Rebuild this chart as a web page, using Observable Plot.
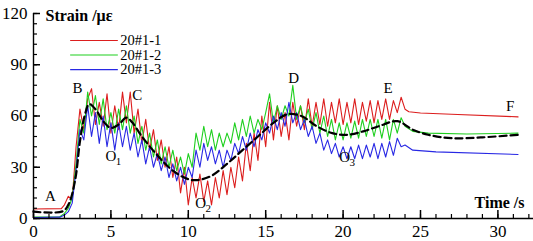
<!DOCTYPE html>
<html><head><meta charset="utf-8">
<script src="https://cdn.jsdelivr.net/npm/d3@7"></script>
<script src="https://cdn.jsdelivr.net/npm/@observablehq/plot@0.6"></script>
<style>body{margin:0;background:#fff} svg text{font-family:"Liberation Serif","Times New Roman",serif}</style>
</head><body><div id="chart"></div>
<script>
// ---------- data ----------
const seriesNames = ["20#1-1", "20#1-2", "20#1-3"];
const seriesColors = ["#dc1e1e", "#1ecf1e", "#2828e4"];

// oscillating part sampled every 0.25 s starting at t = 2.0 s
const oscStart = 2.0, oscStep = 0.25;
const redHead = [[0, 5.6], [1.8, 5.8]];
const redOsc = [8,13,11,42,64,52,70,76,55,68,54,73,50,66,52,74,56,74,50,64,44,58,40,52,34,46,30,42,24,36,15,30,8,24,12,26,10,22,8,24,12,28,14,30,18,36,22,44,28,50,34,60,42,68,46,66,48,62,46,68,54,66,52,70,54,68,55,70,54,68,56,70,55,68,56,70,55,68,57,69,56,69,58,70,58,69,62,71,64];
const redTail = [[24.25, 62.5], [25, 61.8], [27, 61], [31.3, 59.5]];

const greenHead = [[0, 0.8], [1.7, 1]];
const greenOsc = [3,6,12,32,58,50,74,60,72,55,70,52,62,50,64,52,66,50,60,44,54,40,50,36,46,32,42,30,40,28,36,26,38,30,50,40,54,42,52,40,50,42,50,44,56,46,58,48,60,50,58,52,62,73,56,66,58,66,60,78,58,66,56,64,52,62,50,60,48,58,46,56,46,56,47,57,47,58,48,58,48,58,47,58,46,58,50,59,54];
const greenTail = [[24.5, 51], [25.5, 50], [28, 49.5], [31.3, 50]];

const blueHead = [[0, 0.6], [1.7, 0.8]];
const blueOsc = [2,4,9,28,52,46,66,48,62,44,60,42,56,40,56,42,54,40,50,36,46,32,42,30,38,28,36,24,32,22,30,20,30,24,40,30,44,34,42,32,40,30,40,34,44,38,48,40,50,42,52,46,56,50,60,52,62,54,68,56,62,52,58,48,54,44,50,40,46,38,44,36,42,35,42,35,43,35,43,36,44,35,44,36,45,37,47,42,43];
const blueTail = [[24.5, 40], [26, 39], [31.3, 37.5]];

// dashed average curve
const meanCurve = [[0,4],[1.9,4.3],[2.3,9],[2.7,23],[3.0,45],[3.3,60],[3.6,67],[4.0,64],[4.5,57],[5.0,53],[5.5,55],[6.0,59],[6.4,56],[7.0,48],[8.0,37],[9.0,28],[10.0,23],[10.6,22.5],[11.5,25],[12.5,32],[13.5,40],[14.5,48],[15.5,56],[16.4,61],[17.3,60],[18.3,54],[19.3,50],[20.3,49],[21.3,51],[22.3,54],[23.5,57],[24.5,52],[25.5,49],[27,47],[29,47.5],[31.3,49]];

// tick values
const xMajor = [0, 5, 10, 15, 20, 25, 30];
const xMinor = d3.range(0, 33);
const yMajor = [0, 30, 60, 90, 120];
const yMinor = d3.range(0, 121, 6);

// annotation letters
const letters = ["A", "B", "C", "D", "E", "F", "O", "O", "O"];
const letterX = [1.1, 2.85, 6.7, 16.8, 22.9, 30.8, 5.0, 10.8, 20.1];
const letterY = [12.9, 76.5, 72, 82, 76, 66, 36.3, 8.8, 35.7];
const subs = ["", "", "", "", "", "", "1", "2", "3"];

const axisTitleY = "Strain /με";
const axisTitleX = "Time /s";

// ---------- build ----------
function build(head, osc, tail) {
  const pts = head.map(([t, v]) => ({t, v}));
  osc.forEach((v, i) => pts.push({t: oscStart + i * oscStep, v}));
  tail.forEach(([t, v]) => pts.push({t, v}));
  return pts;
}
const series = [
  build(redHead, redOsc, redTail),
  build(greenHead, greenOsc, greenTail),
  build(blueHead, blueOsc, blueTail)
];
const mean = meanCurve.map(([t, v]) => ({t, v}));
const ann = letters.map((s, i) => ({s, x: letterX[i], y: letterY[i], sub: subs[i]}));
const legend = seriesNames.map((name, i) => ({name, color: seriesColors[i], i}));

const font = "Liberation Serif";

const chart = Plot.plot({
  width: 533, height: 241,
  marginLeft: 33, marginRight: 0, marginTop: 13, marginBottom: 23,
  style: {fontFamily: "'Liberation Serif', serif", background: "#fff", color: "#000"},
  x: {domain: [0, 32.3]},
  y: {domain: [0, 120]},
  marks: [
    // data
    ...series.map((d, i) => Plot.line(d, {x: "t", y: "v", stroke: seriesColors[i], strokeWidth: 1.1})),
    Plot.line(mean, {x: "t", y: "v", stroke: "#000", strokeWidth: 2.2, strokeDasharray: "7,4", curve: "catmull-rom"}),
    // axes
    Plot.axisX({ticks: xMinor, tickSize: -4, text: null, label: null, strokeWidth: 1.2}),
    Plot.axisX({ticks: xMajor, tickSize: -8, text: null, label: null, strokeWidth: 1.5}),
    Plot.axisX({ticks: xMajor, tickSize: 0, tickPadding: 6, label: null, fontSize: 17, fontFamily: font, fill: "#000"}),
    Plot.axisY({ticks: yMinor, tickSize: -4, text: null, label: null, strokeWidth: 1.2}),
    Plot.axisY({ticks: yMajor, tickSize: -7, text: null, label: null, strokeWidth: 1.5}),
    Plot.axisY({ticks: yMajor, tickSize: 0, tickPadding: 6, label: null, fontSize: 17, fontFamily: font, fill: "#000"}),
    Plot.ruleY([0], {strokeWidth: 1.4}),
    Plot.ruleX([0], {strokeWidth: 1.4}),
    // titles
    Plot.text([axisTitleY], {frameAnchor: "top-left", dx: 12, dy: 7, text: d => d, textAnchor: "start", lineAnchor: "bottom", fontSize: 16, fontWeight: "bold", fontFamily: font}),
    Plot.text([axisTitleX], {frameAnchor: "bottom-right", dx: -9, dy: -11, text: d => d, textAnchor: "end", lineAnchor: "bottom", fontSize: 16, fontWeight: "bold", fontFamily: font}),
    // legend
    Plot.ruleY(legend, {y: d => 104.2 - d.i * 8.5, x1: 2.4, x2: 5.48, stroke: "color", strokeWidth: 1.2}),
    Plot.text(legend, {y: d => 104.2 - d.i * 8.5, x: 5.6, text: "name", textAnchor: "start", lineAnchor: "middle", fontSize: 14.5, fontFamily: font}),
    // annotations
    Plot.text(ann, {x: "x", y: "y", text: "s", textAnchor: "middle", lineAnchor: "middle", fontSize: 15, fontFamily: font}),
    Plot.text(ann.filter(d => d.sub), {x: "x", y: "y", text: "sub", dx: 7.5, dy: 5, textAnchor: "middle", lineAnchor: "middle", fontSize: 11, fontFamily: font})
  ]
});
document.getElementById("chart").appendChild(chart);
</script>
</body></html>
